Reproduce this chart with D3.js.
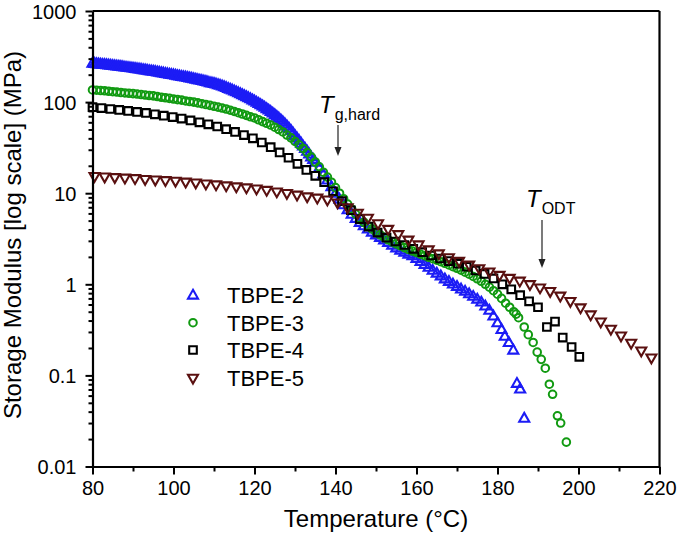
<!DOCTYPE html>
<html><head><meta charset="utf-8">
<script src="https://cdn.jsdelivr.net/npm/d3@7/dist/d3.min.js"></script>
<style>
body{margin:0;background:#fff}
svg{display:block}
text{font-family:"Liberation Sans",Arial,Helvetica,sans-serif;fill:#000}
</style>
</head><body>
<svg id="chart" width="680" height="542"></svg>
<script>
// ---------- data ----------
const seriesNames = ["TBPE-2", "TBPE-3", "TBPE-4", "TBPE-5"];
const xTickValues = [80, 100, 120, 140, 160, 180, 200, 220];
const xMinorTicks = [90, 110, 130, 150, 170, 190, 210];
const yTickValues = [0.01, 0.1, 1, 10, 100, 1000];
const yTickLabels = ["0.01", "0.1", "1", "10", "100", "1000"];

// [temperature °C, storage modulus MPa]
const tbpe2 = [
[80,268],[80.5,266.5],[81,265],[81.5,263.5],[82,262],[82.5,260.5],[83,259],[83.5,257.5],[84,256],[84.5,254.5],
[85,253],[85.5,251.5],[86,250],[86.5,248.5],[87,247],[87.5,245],[88,243],[88.5,241.5],[89,240],[89.5,238.5],
[90,237],[90.5,235],[91,233],[91.5,231.5],[92,230],[92.5,228],[93,226],[93.5,224],[94,222],[94.5,220.5],
[95,219],[95.5,217],[96,215],[96.5,213],[97,211],[97.5,209],[98,207],[98.5,205],[99,203],[99.5,201.5],
[100,200],[100.5,198],[101,196],[101.5,194],[102,192],[102.5,190.5],[103,189],[103.5,187],[104,185],[104.5,183],
[105,181],[105.5,179],[106,177],[106.5,175],[107,173],[107.5,171],[108,169],[108.5,166.5],[109,164],[109.5,162.5],
[110,161],[110.5,158.5],[111,156],[111.5,153.5],[112,151],[112.5,148],[113,145],[113.5,142],[114,139],[114.5,136],
[115,133],[115.5,130],[116,127],[116.5,124],[117,121],[117.5,118],[118,115],[118.5,112],[119,109],[119.5,106],
[120,103],[120.5,100],[121,97],[121.5,94],[122,91],[122.5,88],[123,85],[123.5,82],[124,79],[124.5,76],
[125,73],[125.5,70],[126,67],[126.5,64],[127,61],[127.5,58],[128,55],[128.5,52],[129,49],[129.5,46],
[130,43],[130.5,40.5],[131,38],[131.5,35.5],[132,33],[132.5,31],[133,29],[133.5,27],[134,25],[134.5,23.5],
[135,22],[136,19],[137,16.3],[138,14],[139,11.8],
[140,10],[141,8.6],[142,7.5],[143,6.6],[144,5.9],[145,5.3],[146,4.8],[147,4.4],[148,4.05],[149,3.75],
[150,3.5],[151,3.28],[152,3.08],[153,2.88],[154,2.7],[155,2.52],[156,2.38],[157,2.25],[158,2.15],[159,2.06],
[160,1.93],[161,1.79],[162,1.66],[163,1.54],[164,1.43],[165,1.33],[166,1.24],[167,1.15],[168,1.08],[169,1.01],
[170,0.95],[171,0.89],[172,0.84],[173,0.79],[174,0.74],[175,0.69],[176,0.64],[177,0.58],[178,0.52],[179,0.45],
[180,0.38],[181,0.32],[181.8,0.27],[182.8,0.23],[183.9,0.19],[184.8,0.082],[185.6,0.071],[186.6,0.034]
];
const tbpe3 = [
[80,136],[81,135],[82,134],[83,133],[84,131.5],[85,130],[86,129],[87,127.5],[88,126],[89,125],
[90,124],[91,122.5],[92,121],[93,119.5],[94,118],[95,117],[96,115],[97,113],[98,111.5],[99,110],
[100,108],[101,106.5],[102,105],[103,103],[104,101.5],[105,100],[106,98],[107,96],[108,94],[109,92],
[110,90],[111,88],[112,86],[113,84],[114,81.5],[115,79],[116,76.5],[117,74],[118,71.5],[119,69],
[120,67],[121,64],[122,61],[123,58.5],[124,56],[125,53],[126,50],[127,47],[128,43.5],[129,40.5],
[130,37],[131,34],[132,31],[133,28],[134,25],[135,22],[136,19.5],[137,17],[138,15],[139,13.2],
[140,11.5],[141,10],[142,8.7],[143,7.6],[144,6.7],[145,5.9],[146,5.3],[147,4.8],[148,4.4],[149,4.05],
[150,3.75],[151,3.5],[152,3.28],[153,3.08],[154,2.92],[155,2.78],[156,2.65],[157,2.53],[158,2.42],[159,2.32],
[160,2.23],[161,2.14],[162,2.06],[163,1.98],[164,1.91],[165,1.84],[166,1.77],[167,1.7],[168,1.63],[169,1.56],
[170,1.5],[171,1.43],[172,1.36],[173,1.29],[174,1.22],[175,1.15],[176,1.08],[177,1.0],[178,0.93],[179,0.85],
[180,0.78],[181,0.7],[182,0.62],[183,0.56],[184,0.5],[184.6,0.47],[185.2,0.43],[186.6,0.34],[187.6,0.28],[188.8,0.23],
[189.8,0.18],[190.8,0.15],[191.8,0.12],[192.8,0.08],[193.6,0.062],[194.8,0.036],[195.6,0.030],[197,0.0185]
];
const tbpe4 = [
[80,88],[82.2,86],[84.4,84],[86.6,82],[88.8,80],[91,78],[93.2,76],[95.4,73.5],[97.6,71],[99.8,68.5],
[102,66],[104.2,63],[106.4,60],[108.6,57],[110.8,54],[113,50.5],[115.2,47],[117.4,43.5],[119.6,40],[121.8,36],
[124,32],[126.2,28],[128.4,24.5],[130.6,21],[132.8,18],[135,15.5],[137.2,13.2],[139.4,10.5],[141.6,8.2],[143.8,6.5],
[146,5.2],[148.2,4.3],[150.4,3.7],[152.6,3.25],[154.8,2.95],[157,2.7],[159.2,2.45],[161.4,2.25],[163.6,2.07],[165.8,1.92],
[168,1.8],[170.2,1.68],[172.4,1.56],[174.6,1.42],[176.8,1.3],[179,1.16],[181.2,1.0],[183.4,0.88],[185.6,0.76],[187.8,0.65],
[190,0.56],[192.2,0.34],[194.2,0.39],[196.1,0.26],[198.3,0.205],[200.2,0.16]
];
const tbpe5 = [
[80.5,15.2],[83,15.0],[85.5,14.8],[88,14.6],[90.5,14.4],[93,14.1],[95.5,13.9],[98,13.7],[100.5,13.5],[103,13.2],
[105.5,12.9],[108,12.6],[110.5,12.3],[113,12.0],[115.5,11.7],[118,11.4],[120.5,11.1],[123,10.7],[125.5,10.3],[128,9.9],
[130.5,9.5],[133,9.1],[135.5,8.8],[138,8.4],[140.5,7.8],[143,6.9],[145.5,6.0],[148,5.3],[150.5,4.6],[153,4.0],
[155.5,3.5],[158,3.05],[160.5,2.7],[163,2.38],[165.5,2.15],[168,1.95],[170.5,1.78],[173,1.62],[175.5,1.48],[178,1.36],
[180.5,1.25],[183,1.16],[185.5,1.08],[188,0.99],[190.5,0.91],[193,0.83],[195.5,0.74],[198,0.645],[200.5,0.55],[203,0.46],
[205.5,0.385],[208,0.32],[210.5,0.27],[213,0.225],[215.5,0.185],[218,0.155]
];
const seriesData = [tbpe2, tbpe3, tbpe4, tbpe5];
const seriesColors = ["#1c1cf5", "#119a11", "#000000", "#5a1010"];
const seriesShapes = ["triUp", "circle", "square", "triDown"];

// ---------- chart ----------
const svg = d3.select("#chart");
const x = d3.scaleLinear().domain([80, 220]).range([92.5, 659.5]);
const y = d3.scaleLog().domain([0.01, 1000]).range([466.5, 11]);

function shapePath(kind) {
  if (kind === "triUp") return "M0,-5.2L5,3.6L-5,3.6Z";
  if (kind === "triDown") return "M0,5.2L5,-3.6L-5,-3.6Z";
  if (kind === "square") return "M-3.8,-3.8H3.8V3.8H-3.8Z";
  return null;
}
function drawMarker(g, kind, color) {
  if (kind === "circle") {
    g.append("circle").attr("r", 3.8).attr("fill", "none").attr("stroke", color).attr("stroke-width", 2);
  } else {
    g.append("path").attr("d", shapePath(kind)).attr("fill", "none").attr("stroke", color).attr("stroke-width", 2.1).attr("stroke-linejoin", "miter");
  }
}

// markers
seriesData.forEach((data, i) => {
  const g = svg.append("g");
  data.forEach(d => {
    const m = g.append("g").attr("transform", `translate(${x(d[0])},${y(d[1])})`);
    drawMarker(m, seriesShapes[i], seriesColors[i]);
  });
});

// axes
const xAxis = svg.append("g").attr("transform", "translate(0,466.5)")
  .call(d3.axisBottom(x).tickValues(xTickValues).tickSize(8).tickSizeOuter(0).tickPadding(6).tickFormat(d3.format("d")));
xAxis.selectAll("text").style("font-size", "20px");
svg.append("g").attr("transform", "translate(0,466.5)")
  .call(d3.axisBottom(x).tickValues(xMinorTicks).tickSize(5).tickFormat(""))
  .select(".domain").remove();

const yAxis = svg.append("g").attr("transform", "translate(92.5,0)")
  .call(d3.axisLeft(y).tickValues(yTickValues).tickSize(7).tickSizeOuter(0).tickPadding(9)
    .tickFormat((d, i) => yTickLabels[i]));
yAxis.selectAll("text").style("font-size", "20px").attr("dy", "0.35em");
const yMinor = [];
yTickValues.slice(0, -1).forEach(v => { for (let k = 2; k <= 9; k++) yMinor.push(v * k); });
svg.append("g").attr("transform", "translate(92.5,0)")
  .call(d3.axisLeft(y).tickValues(yMinor).tickSize(4).tickFormat(""))
  .select(".domain").remove();

svg.selectAll(".domain").attr("stroke-width", 2.2);
svg.selectAll(".tick line").attr("stroke-width", 2);

// frame top/right
svg.append("line").attr("x1", x(80)).attr("x2", x(220)).attr("y1", y(1000)).attr("y2", y(1000)).attr("stroke", "#000").attr("stroke-width", 2.2);
svg.append("line").attr("x1", x(220)).attr("x2", x(220)).attr("y1", y(1000)).attr("y2", y(0.01)).attr("stroke", "#000").attr("stroke-width", 2.2);

// axis titles
svg.append("text").attr("x", 376).attr("y", 527).attr("text-anchor", "middle").style("font-size", "24px").text("Temperature (°C)");
svg.append("text").attr("transform", "translate(21,235) rotate(-90)").attr("text-anchor", "middle").style("font-size", "24px").text("Storage Modulus [log scale] (MPa)");

// legend
const legendY = [295, 322.7, 350, 378.3];
seriesNames.forEach((n, i) => {
  const m = svg.append("g").attr("transform", `translate(193,${legendY[i]})`);
  drawMarker(m, seriesShapes[i], seriesColors[i]);
  svg.append("text").attr("x", 227).attr("y", legendY[i] + 8).style("font-size", "22px").text(n);
});

// annotations
function annot(tx, ty, sub, ax, ay1, ay2) {
  const t = svg.append("text").attr("x", tx).attr("y", ty);
  t.append("tspan").style("font-size", "24px").style("font-style", "italic").text("T");
  t.append("tspan").style("font-size", "16px").attr("dy", 7).attr("dx", 1).text(sub);
  svg.append("line").attr("x1", ax).attr("x2", ax).attr("y1", ay1).attr("y2", ay2 - 8).attr("stroke", "#222").attr("stroke-width", 1.2);
  svg.append("path").attr("d", `M${ax - 3.5},${ay2 - 9}L${ax + 3.5},${ay2 - 9}L${ax},${ay2}Z`).attr("fill", "#222");
}
annot(319, 113, "g,hard", 338, 125, 156);
annot(526, 207, "ODT", 542, 220, 268);
</script>
</body></html>
